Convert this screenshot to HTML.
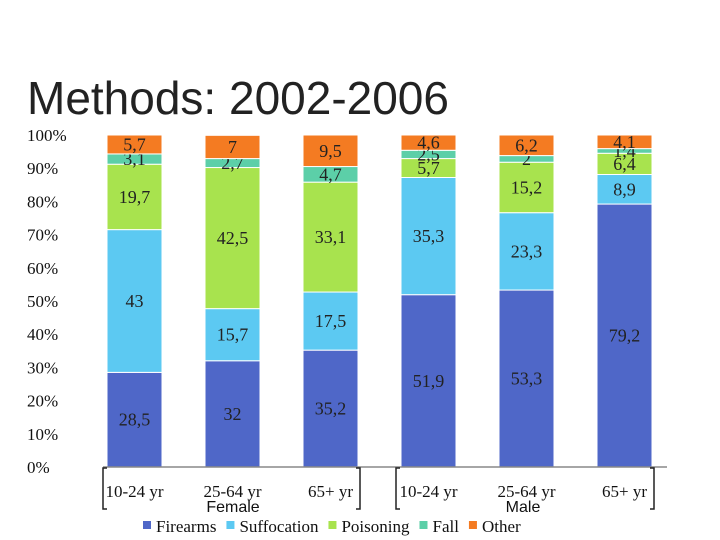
<!DOCTYPE html>
<html><head><meta charset="utf-8"><style>
body{margin:0;background:#fff;width:720px;height:540px;overflow:hidden}
svg{display:block}
</style></head><body>
<svg id="c" width="720" height="540" xmlns="http://www.w3.org/2000/svg">
<text x="27" y="114" font-family="Liberation Sans, sans-serif" font-size="46" fill="#222">Methods: 2002-2006</text>
</svg>
<script>
const categories=["10-24 yr","25-64 yr","65+ yr","10-24 yr","25-64 yr","65+ yr"];
const groups=["Female","Male"];
const seriesNames=["Firearms","Suffocation","Poisoning","Fall","Other"];
const firearms=[28.5,32,35.2,51.9,53.3,79.2];
const suffocation=[43,15.7,17.5,35.3,23.3,8.9];
const poisoning=[19.7,42.5,33.1,5.7,15.2,6.4];
const fall=[3.1,2.7,4.7,2.5,2,1.4];
const other=[5.7,7,9.5,4.6,6.2,4.1];
const labels=[["28,5","32","35,2","51,9","53,3","79,2"],["43","15,7","17,5","35,3","23,3","8,9"],["19,7","42,5","33,1","5,7","15,2","6,4"],["3,1","2,7","4,7","2,5","2","1,4"],["5,7","7","9,5","4,6","6,2","4,1"]];
const yTicks=[0,10,20,30,40,50,60,70,80,90,100];
const colors=["#4f67c8","#5cc9f2","#a8e34e","#5ccfa8","#f47b22"];
const NS="http://www.w3.org/2000/svg";
const svg=document.getElementById('c');
const y0=467,y100=135;
const y=v=>y0-(v/100)*(y0-y100);
const x=i=>134.5+i*98;
const bw=55;
function mk(t,a){const e=document.createElementNS(NS,t);for(const k in a)e.setAttribute(k,a[k]);svg.appendChild(e);return e;}
yTicks.forEach(t=>{const e=mk('text',{x:27,y:y(t)+6,'font-family':'Liberation Serif, serif','font-size':17,fill:'#111'});e.textContent=t+'%';

});
const series=[firearms,suffocation,poisoning,fall,other];
categories.forEach((c,i)=>{let acc=0;series.forEach((s,j)=>{const v=s[i];const r=mk('rect',{x:x(i)-bw/2,y:y(acc+v),width:bw,height:y(acc)-y(acc+v),fill:colors[j],stroke:'#fff','stroke-width':1});


const t=mk('text',{x:x(i),y:y(acc+v/2)+6,'text-anchor':'middle','font-family':'Liberation Serif, serif','font-size':18,fill:'#222'});t.textContent=labels[j][i];


acc+=v;});
const t=mk('text',{x:x(i),y:497,'text-anchor':'middle','font-family':'Liberation Serif, serif','font-size':17,fill:'#111'});t.textContent=c;

});
const ax=mk('line',{x1:103,y1:y0,x2:667,y2:y0,stroke:'#888','stroke-width':1.5});


const brL=[103,396],brR=[360,654];
groups.forEach((g,k)=>{const l=brL[k],r=brR[k];
const p=mk('path',{d:`M${l+4},468 H${l} V509 H${l+4} M${r-4},468 H${r} V509 H${r-4}`,fill:'none',stroke:'#222','stroke-width':1.5});


const t=mk('text',{x:k?523:233,y:512,'text-anchor':'middle','font-family':'Liberation Sans, sans-serif','font-size':16,fill:'#111'});t.textContent=g;

});
let lx=143;seriesNames.forEach((n,j)=>{const r=mk('rect',{x:lx,y:521,width:8,height:8,fill:colors[j]});


const t=mk('text',{x:lx+13,y:532,'font-family':'Liberation Serif, serif','font-size':17,fill:'#111'});t.textContent=n;


lx+=13+t.getComputedTextLength()+10;});
</script>
</body></html>
